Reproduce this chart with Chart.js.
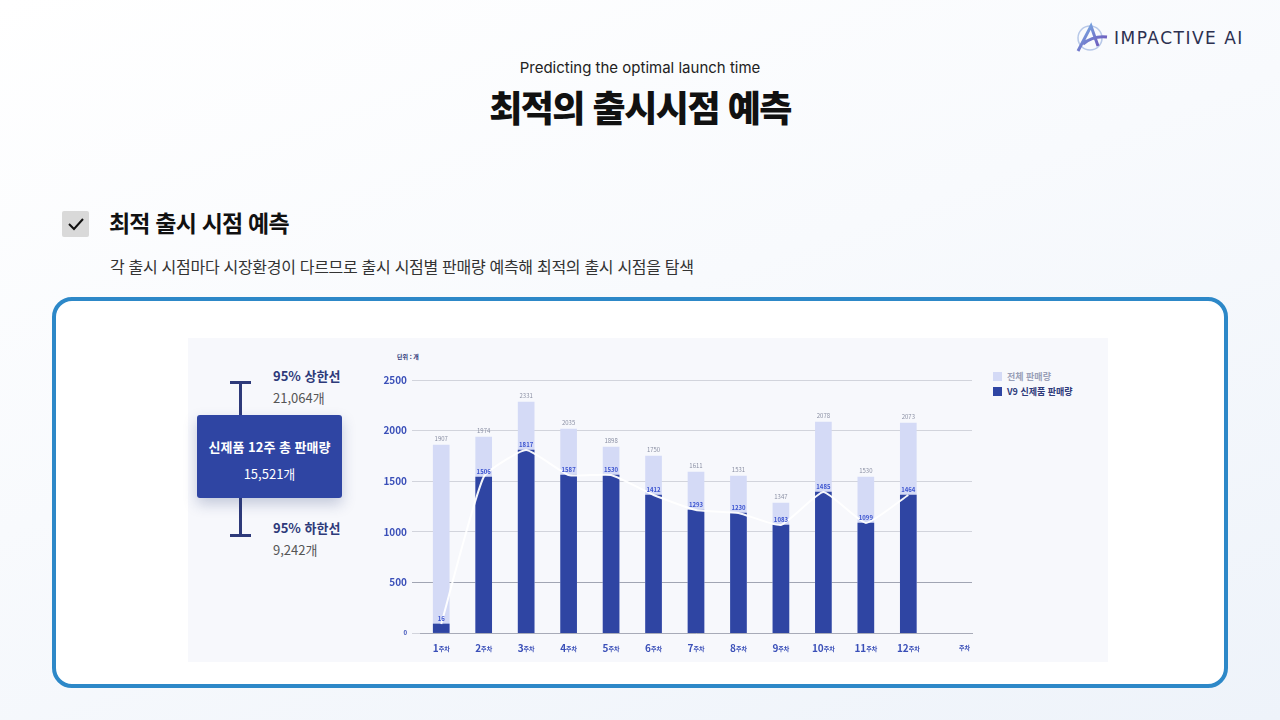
<!DOCTYPE html>
<html lang="ko">
<head>
<meta charset="utf-8">
<script src="https://cdn.jsdelivr.net/npm/chart.js@4.4.0/dist/chart.umd.min.js"></script>
<style>
    * { margin: 0; padding: 0; box-sizing: border-box; }
    body {
        width: 1280px; height: 720px; overflow: hidden; position: relative;
        font-family: 'Noto Sans CJK KR', 'Noto Sans', sans-serif;
        background: linear-gradient(160deg, #ffffff 0%, #f8fafd 45%, #eef3fa 100%);
        color: #111;
    }
    .abs { position: absolute; }
    .logo { left: 1074px; top: 22px; display: flex; align-items: center; gap: 6px; }
    .logo span { font-family: 'DejaVu Sans', sans-serif; font-size: 17px; letter-spacing: 1.5px; color: #2c3050; }
    .sub { left: 0; width: 1280px; top: 58px; text-align: center; font-size: 15px; color: #222; font-family: 'Inter', sans-serif; }
    .title { left: 0; width: 1280px; top: 80px; text-align: center; font-size: 36px; font-weight: 900; letter-spacing: -1.5px; }
    .check { left: 62px; top: 211px; width: 27px; height: 26px; background: #d9d9d9; border-radius: 2px; }
    .h2 { left: 109px; top: 205px; font-size: 23px; font-weight: 700; letter-spacing: -0.8px; }
    .desc { left: 110px; top: 254px; font-size: 16px; color: #333; letter-spacing: -0.3px; }
    .card { left: 52px; top: 297px; width: 1176px; height: 391px; border: 4px solid #2d88c8; border-radius: 20px; background: #fff; }
    .panel { left: 188px; top: 338px; width: 920px; height: 324px; background: #f7f8fc; }
    .whisk { left: 239px; width: 3px; background: #2e3a7a; }
    .cap { left: 230px; width: 21px; height: 3px; background: #2e3a7a; }
    .box { left: 197px; top: 415px; width: 145px; height: 83px; background: #2f45a3; border-radius: 3px;
           box-shadow: 0 6px 14px rgba(40,60,120,0.25); color: #fff; text-align: center; }
    .box .a { margin-top: 22px; font-size: 13px; font-weight: 700; }
    .box .b { margin-top: 8px; font-size: 13px; }
    .ci b { display: block; font-size: 13px; color: #2e3a7a; }
    .ci span { display: block; font-size: 13px; color: #555; margin-top: 3px; }
    .legend { left: 993px; top: 369px; font-size: 9px; font-weight: 700; }
    .legend div { display: flex; align-items: center; gap: 5px; height: 15px; }
    .legend i { display: inline-block; width: 9px; height: 9px; }
    .unit { left: 397px; top: 352px; font-size: 6px; color: #2e3a7a; font-weight: 700; }
</style>
</head>
<body>
<div class="abs logo">
    <svg width="34" height="32" viewBox="0 0 34 32">
        <defs><linearGradient id="lg" x1="0" y1="0" x2="1" y2="1">
            <stop offset="0" stop-color="#7ab6e8"/><stop offset="1" stop-color="#6a3fb0"/></linearGradient></defs>
        <circle cx="16" cy="16" r="12" fill="none" stroke="#b7c8e8" stroke-width="1.5"/>
        <path d="M4 29 L17 4 L24 24 M9 22 C16 16 24 14 33 15" fill="none" stroke="url(#lg)" stroke-width="3"/>
    </svg>
    <span>IMPACTIVE AI</span>
</div>
<div class="abs sub">Predicting the optimal launch time</div>
<div class="abs title">최적의 출시시점 예측</div>
<div class="abs check">
    <svg width="27" height="26"><path d="M7 13 L12 18 L21 8" fill="none" stroke="#111" stroke-width="2"/></svg>
</div>
<div class="abs h2">최적 출시 시점 예측</div>
<div class="abs desc">각 출시 시점마다 시장환경이 다르므로 출시 시점별 판매량 예측해 최적의 출시 시점을 탐색</div>

<div class="abs card"></div>
<div class="abs panel"></div>

<div class="abs cap" style="top:381px"></div>
<div class="abs whisk" style="top:381px; height:154px"></div>
<div class="abs cap" style="top:534px"></div>
<div class="abs ci" style="left:273px; top:366px"><b>95% 상한선</b><span>21,064개</span></div>
<div class="abs box"><div class="a">신제품 12주 총 판매량</div><div class="b">15,521개</div></div>
<div class="abs ci" style="left:273px; top:518px"><b>95% 하한선</b><span>9,242개</span></div>

<div class="abs unit">단위 : 개</div>
<div class="abs legend">
    <div style="color:#9aa0b8"><i style="background:#d4daf6"></i>전체 판매량</div>
    <div style="color:#2e3a7a"><i style="background:#2f45a3"></i>V9 신제품 판매량</div>
</div>

<canvas id="chart" class="abs" style="left:380px; top:360px; width:600px; height:300px"></canvas>

<script>
// ── Chart data ────────────────────────────────────────────
const weeks = ['1', '2', '3', '4', '5', '6', '7', '8', '9', '10', '11', '12', ''];
const totalSales = [1858, 1937, 2283, 2016, 1838, 1749, 1591, 1551, 1285, 2085, 1541, 2075, null];
const newSales   = [89, 1541, 1808, 1561, 1561, 1364, 1215, 1186, 1067, 1393, 1087, 1364, null];
const totalLabels = ['1907', '1974', '2331', '2035', '1898', '1750', '1611', '1531', '1347', '2078', '1530', '2073'];
const newLabels   = ['16', '1506', '1817', '1587', '1530', '1412', '1293', '1230', '1083', '1485', '1099', '1464'];
const yTicks = [0, 500, 1000, 1500, 2000, 2500];

const FONT = "'Noto Sans CJK KR', sans-serif";

// ── Labels over bars and week names under axis ───────────
const labelPlugin = {
    id: 'labels',
    afterDatasetsDraw(chart) {
        const ctx = chart.ctx;
        const x = chart.scales.x, y = chart.scales.y;
        ctx.save();
        ctx.textAlign = 'center';
        ctx.textBaseline = 'bottom';
        totalLabels.forEach((t, i) => {
            ctx.font = '6px ' + FONT;
            ctx.fillStyle = '#8a8fa3';
            ctx.fillText(t, x.getPixelForValue(i), y.getPixelForValue(totalSales[i]) - 3);
            ctx.font = 'bold 6px ' + FONT;
            ctx.fillStyle = '#3d55d0';
            ctx.fillText(newLabels[i], x.getPixelForValue(i), y.getPixelForValue(newSales[i]) - 2);
        });
        // week labels
        ctx.textBaseline = 'middle';
        weeks.forEach((w, i) => {
            const px = x.getPixelForValue(i);
            const py = y.bottom + 15;
            ctx.fillStyle = '#3a4fb8';
            if (w === '') {
                ctx.font = 'bold 6px ' + FONT;
                ctx.textAlign = 'right';
                ctx.fillText('주차', x.right - 2, py);
                return;
            }
            ctx.font = 'bold 10px ' + FONT;
            const nw = ctx.measureText(w).width;
            ctx.font = 'bold 6px ' + FONT;
            const sw = ctx.measureText('주차').width;
            const start = px - (nw + sw) / 2;
            ctx.textAlign = 'left';
            ctx.font = 'bold 10px ' + FONT;
            ctx.fillText(w, start, py);
            ctx.font = 'bold 6px ' + FONT;
            ctx.fillText('주차', start + nw, py + 1);
        });
        ctx.restore();
    }
};

new Chart(document.getElementById('chart'), {
    data: {
        labels: weeks,
        datasets: [
            { type: 'line', data: newSales, borderColor: 'rgba(255,255,255,0.95)', borderWidth: 2,
              pointRadius: 0, tension: 0.15, order: 0 },
            { type: 'bar', data: newSales, backgroundColor: '#2f45a3', barThickness: 16, grouped: false, order: 1 },
            { type: 'bar', data: totalSales, backgroundColor: '#d4daf6', barThickness: 16, grouped: false, order: 2 }
        ]
    },
    options: {
        responsive: false,
        animation: false,
        layout: { padding: { top: 20, right: 8, left: 0, bottom: 0 } },
        plugins: { legend: { display: false }, tooltip: { enabled: false } },
        scales: {
            x: {
                grid: { display: false },
                border: { color: '#a8abb8' },
                ticks: { display: false },
                afterFit(s) { s.height = 27; }
            },
            y: {
                min: 0, max: 2500,
                afterBuildTicks(s) { s.ticks = yTicks.map(v => ({ value: v })); },
                afterFit(s) { s.width = 40; },
                grid: { color: ctx => ctx.tick.value === 500 ? '#8a8fa0' : '#c8cad3', lineWidth: 0.8 },
                border: { display: false },
                ticks: {
                    color: '#3a4fb8', padding: 5,
                    callback: v => String(v),
                    font: ctx => ({ family: FONT, weight: 'bold', size: ctx.tick && ctx.tick.value === 0 ? 6 : 10 })
                }
            }
        }
    },
    plugins: [labelPlugin]
});
</script>
</body>
</html>
